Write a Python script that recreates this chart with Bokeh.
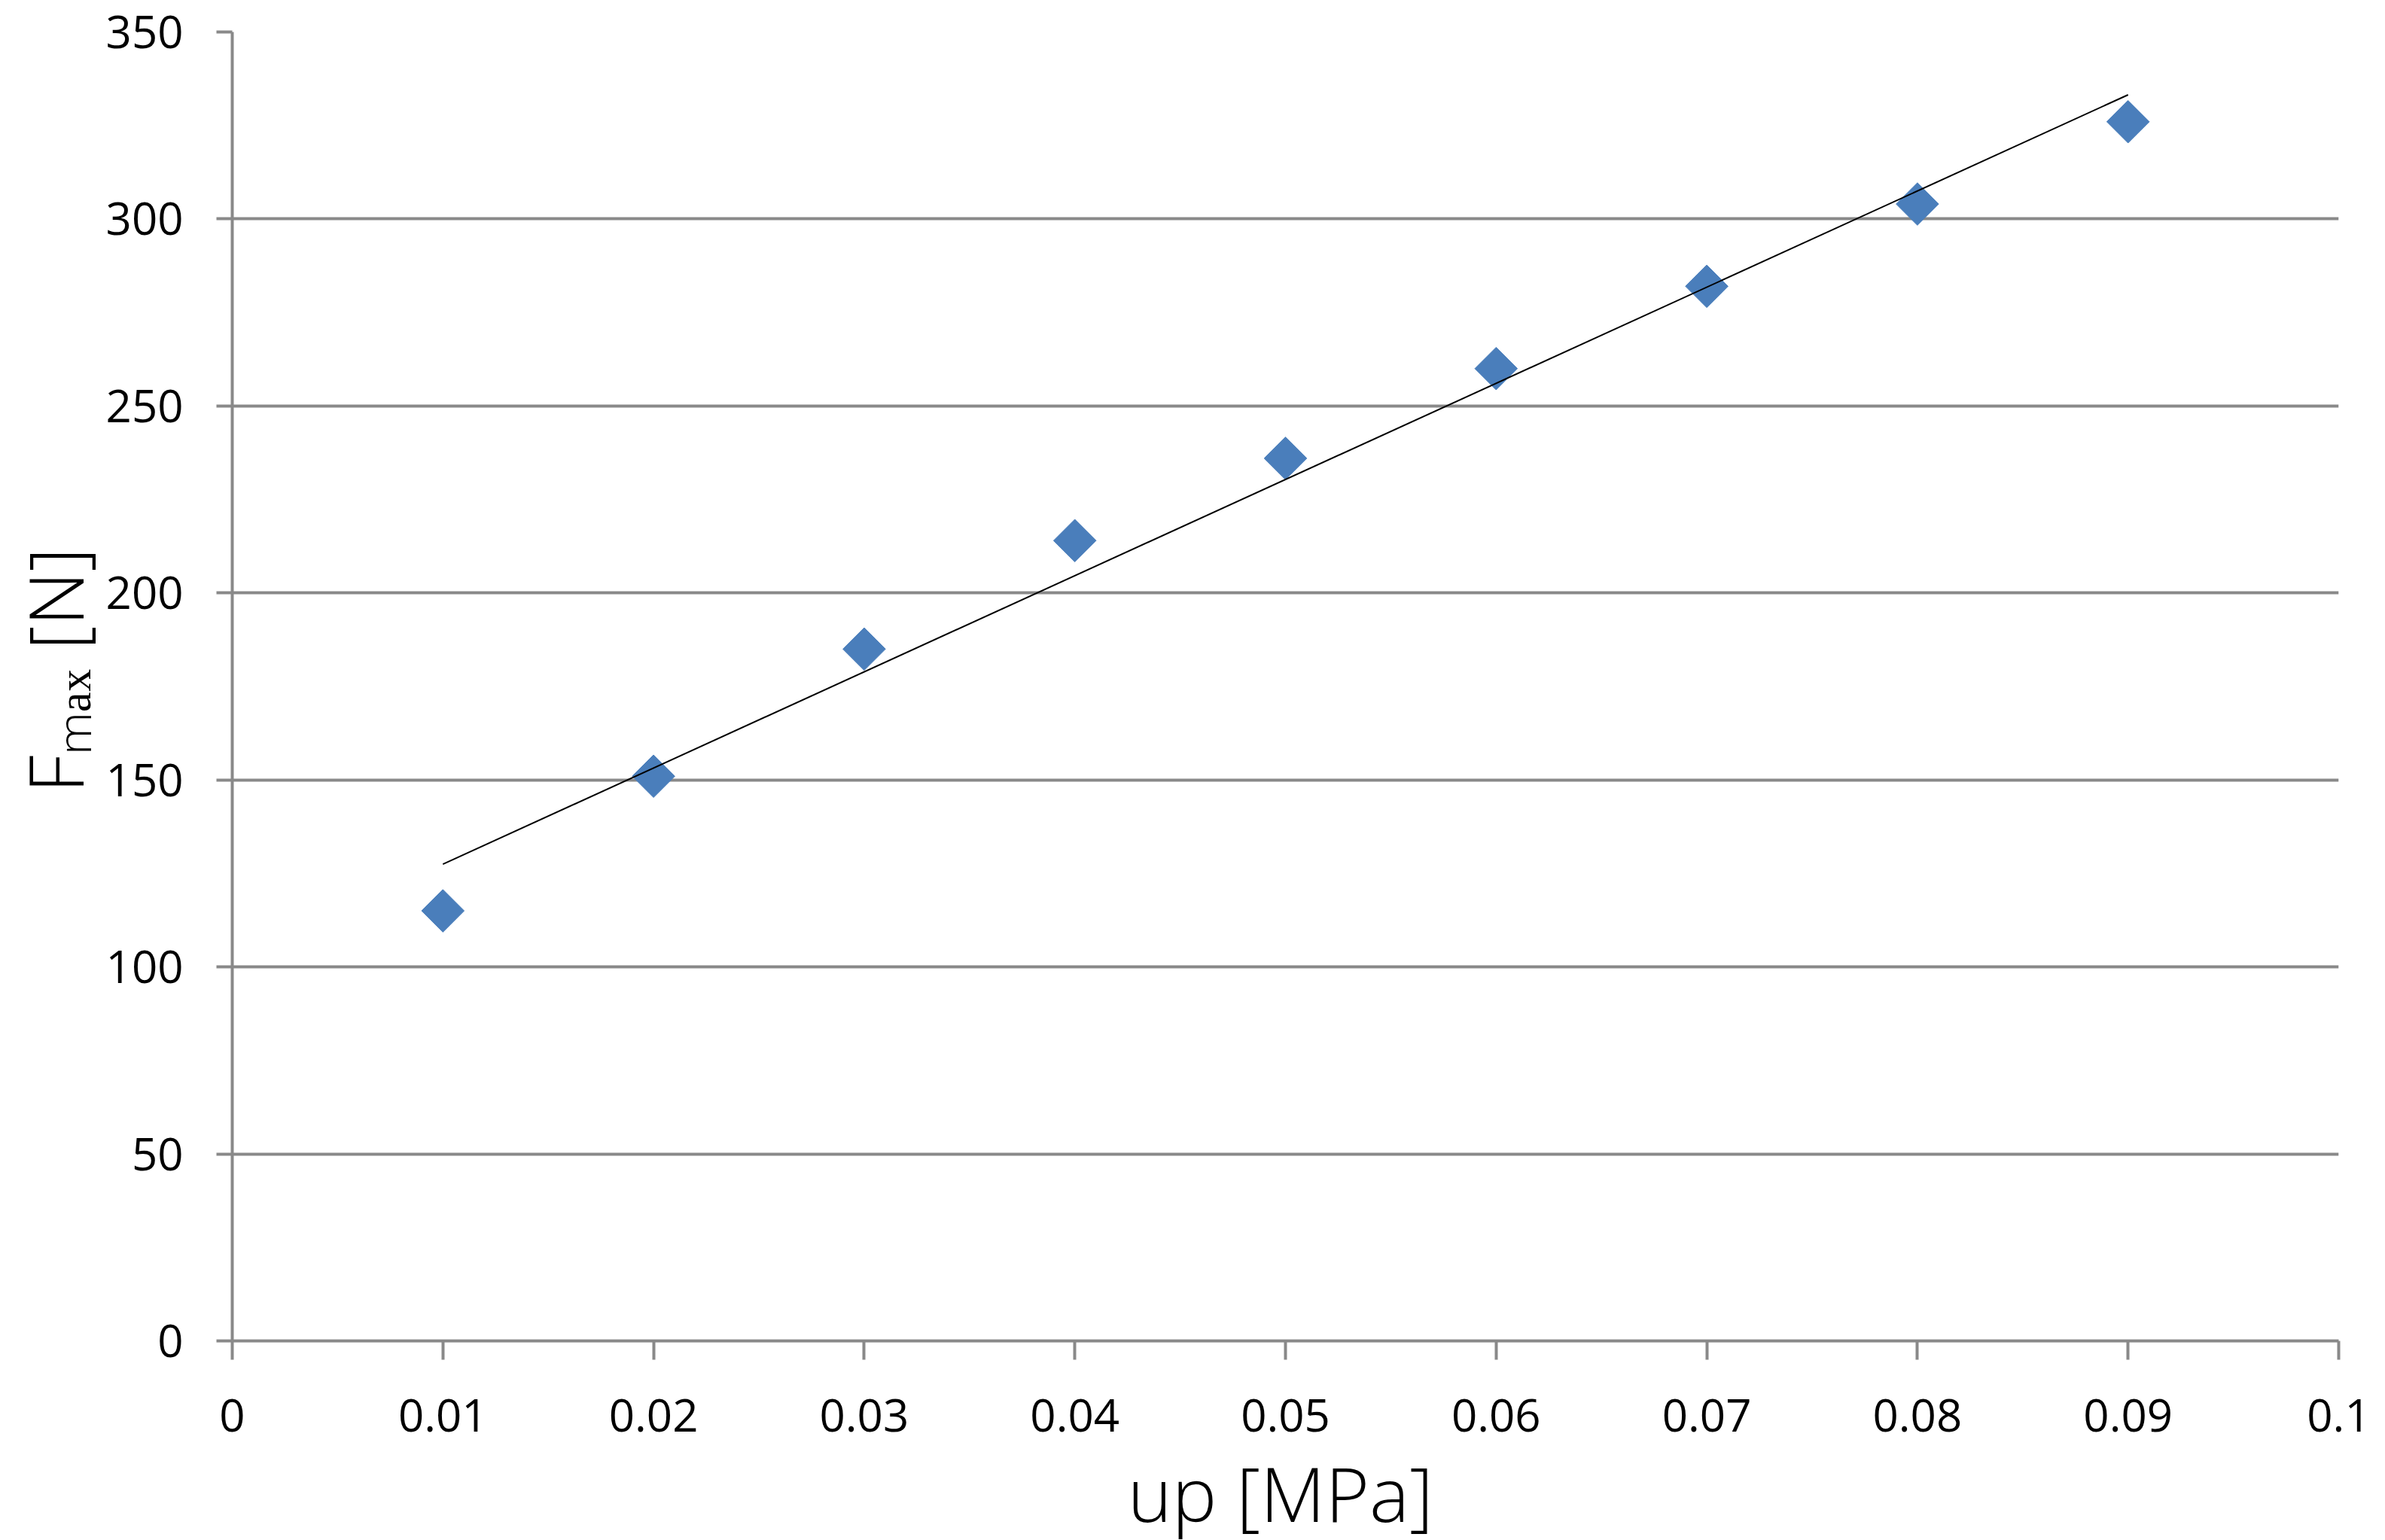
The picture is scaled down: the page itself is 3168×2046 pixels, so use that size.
import numpy as np
from math import pi
from bokeh.plotting import figure
from bokeh.models import Range1d, FixedTicker
from bokeh.embed import file_html
from bokeh.resources import INLINE

# ---- data ----
up_mpa = [0.01, 0.02, 0.03, 0.04, 0.05, 0.06, 0.07, 0.08, 0.09]
f_max = [115, 151, 185, 214, 236, 260, 282, 304, 326]

x_ticks = [0, 0.01, 0.02, 0.03, 0.04, 0.05, 0.06, 0.07, 0.08, 0.09, 0.1]
x_tick_labels = ["0", "0.01", "0.02", "0.03", "0.04", "0.05", "0.06", "0.07", "0.08", "0.09", "0.1"]
y_ticks = [0, 50, 100, 150, 200, 250, 300, 350]

x_label = "up [MPa]"
y_label = "\u00a0\u00a0F\u2098\u2090\u2093 [N]"   # F_max [N]

# linear trend line fitted to the data
slope, intercept = np.polyfit(up_mpa, f_max, 1)
trend_x = [min(up_mpa), max(up_mpa)]
trend_y = [slope * x + intercept for x in trend_x]

FONT = "Open Sans"
GREY = "#898989"

p = figure(frame_width=2798, frame_height=1739,
           min_border_left=307, min_border_right=47,
           min_border_top=42, min_border_bottom=250,
           x_range=Range1d(0, 0.1), y_range=Range1d(0, 350),
           output_backend="svg", toolbar_location=None,
           background_fill_color="white", border_fill_color="white")
p.outline_line_color = None
p.xgrid.visible = False
p.ygrid.grid_line_color = GREY
p.ygrid.grid_line_width = 4

for ax in (p.xaxis[0], p.yaxis[0]):
    ax.axis_line_color = GREY
    ax.axis_line_width = 4
    ax.major_tick_line_color = GREY
    ax.major_tick_line_width = 4
    ax.major_tick_in = 0
    ax.minor_tick_line_color = None
    ax.major_label_text_font = FONT
    ax.major_label_text_font_size = "60px"
    ax.major_label_text_color = "black"
    ax.axis_label_text_font = FONT
    ax.axis_label_text_font_style = "normal"
    ax.axis_label_text_color = "black"
    ax.axis_label_text_font_size = "100px"

p.xaxis.ticker = FixedTicker(ticks=x_ticks)
p.xaxis.major_label_overrides = {t: l for t, l in zip(x_ticks, x_tick_labels)}
p.xaxis.major_tick_out = 25
p.xaxis.major_label_standoff = 52
p.xaxis.axis_label = x_label
p.xaxis.axis_label_standoff = 10

p.yaxis.ticker = FixedTicker(ticks=y_ticks)
p.yaxis.major_tick_out = 21
p.yaxis.major_label_standoff = 44
p.yaxis.axis_label = y_label
p.yaxis.axis_label_standoff = -2

p.scatter(up_mpa, f_max, marker="square", size=40, angle=pi / 4,
          fill_color="#4A7EBB", line_color="#4A7EBB", line_width=1)
p.line(trend_x, trend_y, line_color="black", line_width=2)

open("out.html", "w").write(file_html(p, INLINE))
